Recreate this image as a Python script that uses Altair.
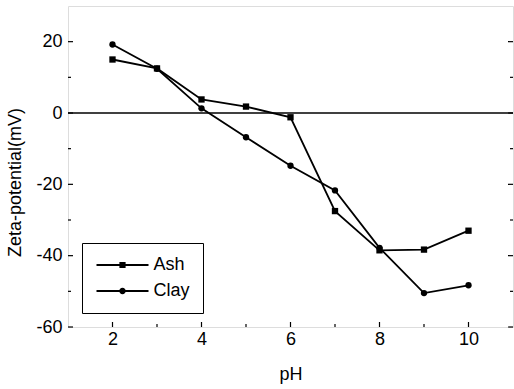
import altair as alt
import pandas as pd

ph = [2, 3, 4, 5, 6, 7, 8, 9, 10]
ash = [15, 12.5, 3.8, 1.8, -1.2, -27.5, -38.5, -38.3, -33]
clay = [19.2, 12.4, 1.3, -6.8, -14.8, -21.7, -37.8, -50.5, -48.3]
series_names = ["Ash", "Clay"]

x_major = [2, 4, 6, 8, 10]
x_minor = [3, 5, 7, 9]
y_major = [-60, -40, -20, 0, 20]
y_minor = [-50, -30, -10, 10]

rows = []
for name, vals in zip(series_names, [ash, clay]):
    for p, v in zip(ph, vals):
        rows.append({"pH": p, "zeta": v, "Series": name})
df = pd.DataFrame(rows)

W, H = 445, 321
FONT = "Liberation Sans"
xs = alt.Scale(domain=[1, 11], nice=False, zero=False)
ys = alt.Scale(domain=[-60, 30], nice=False, zero=False)

xaxis = alt.Axis(values=x_major, labelExpr="toString(datum.value)", title="pH", labelFontSize=18,
                 titleFontSize=18, labelFont=FONT, titleFont=FONT, titleFontWeight="normal",
                 labelColor="black", titleColor="black", ticks=False, domain=False, grid=False,
                 labelPadding=3, titleY=38, titleBaseline="top")
yaxis = alt.Axis(values=y_major, labelExpr="toString(datum.value)", title="Zeta-potential(mV)",
                 labelFontSize=18, titleFontSize=18, labelFont=FONT, titleFont=FONT,
                 titleFontWeight="normal", labelColor="black", titleColor="black", ticks=False,
                 domain=False, grid=False, labelPadding=6, titleX=-44, titleY=176)

base = alt.Chart(df)
line = base.mark_line(color="black", strokeWidth=1.8).encode(
    x=alt.X("pH:Q", scale=xs, axis=xaxis),
    y=alt.Y("zeta:Q", scale=ys, axis=yaxis),
    detail="Series:N",
)
pts = base.mark_point(filled=True, color="black", opacity=1, size=40).encode(
    x=alt.X("pH:Q", scale=xs),
    y=alt.Y("zeta:Q", scale=ys),
    shape=alt.Shape("Series:N", scale=alt.Scale(domain=series_names, range=["square", "circle"]),
                    legend=None),
)

ash_sym = "M -5.2 -0.18 H 5.2 V 0.18 H -5.2 Z M -0.62 -0.62 H 0.62 V 0.62 H -0.62 Z"
clay_sym = "M -5.2 -0.18 H 5.2 V 0.18 H -5.2 Z M 0.65 0 A 0.65 0.65 0 1 1 -0.65 0 A 0.65 0.65 0 1 1 0.65 0 Z"
leg = base.transform_filter("false").mark_point(filled=True, color="black", opacity=1).encode(
    x=alt.X("pH:Q", scale=xs),
    y=alt.Y("zeta:Q", scale=ys),
    shape=alt.Shape("Series:N", scale=alt.Scale(domain=series_names, range=[ash_sym, clay_sym]),
                    legend=alt.Legend(orient="none", legendX=14, legendY=237, title=None,
                                      strokeColor="black", padding=13, rowPadding=8,
                                      symbolSize=100, symbolOffset=18.5, labelOffset=22,
                                      symbolFillColor="black", symbolStrokeWidth=0,
                                      labelFontSize=18, labelFont=FONT, labelColor="black",
                                      fillColor="white")),
)

zero = alt.Chart(pd.DataFrame({"z": [0]})).mark_rule(color="black", strokeWidth=1.5).encode(
    y=alt.Y("z:Q", scale=ys))

def ytick(vals, x1, x2):
    return alt.Chart(pd.DataFrame({"v": vals})).mark_rule(color="black", strokeWidth=1.2).encode(
        y=alt.Y("v:Q", scale=ys), x=alt.value(x1), x2=alt.value(x2))

def xtick(vals, length):
    return alt.Chart(pd.DataFrame({"v": vals})).mark_rule(color="black", strokeWidth=1.2).encode(
        x=alt.X("v:Q", scale=xs), y=alt.value(H), y2=alt.value(H - length))

chart = alt.layer(
    zero, line, pts,
    ytick(y_major, 0, 5), ytick(y_minor, 0, 3),
    ytick(y_major, W, W - 5), ytick(y_minor, W, W - 3),
    xtick(x_major, 5), xtick(x_minor, 3),
    leg,
).resolve_scale(shape="independent").properties(
    width=W, height=H,
    padding={"left": 68, "top": 6, "right": 1, "bottom": 62},
    autosize=alt.AutoSizeParams(type="none"),
).configure_view(stroke="black", strokeWidth=1.5).configure(background="white")

chart.save("out.html", embed_options={"renderer": "svg", "actions": False})
